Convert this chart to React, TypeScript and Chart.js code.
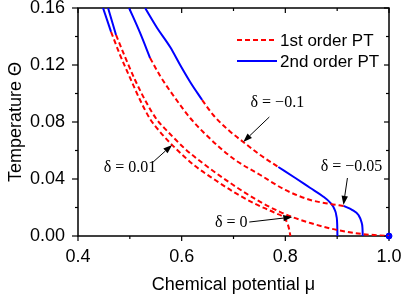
import React, { useEffect, useRef } from "react";
import { Chart, registerables } from "chart.js";
Chart.register(...registerables);

// Axis ticks
const xTicks = [0.4, 0.6, 0.8, 1.0];
const xMinor = [0.5, 0.7, 0.9];
const yTicks = [0, 0.04, 0.08, 0.12, 0.16];
const yMinor = [0.02, 0.06, 0.1, 0.14];

// δ = 0.01
const muA2 = [0.4483, 0.4638];
const tA2 = [0.16, 0.1432];
const muA1 = [0.4638, 0.4812, 0.5005, 0.5198, 0.5391, 0.5585, 0.5874, 0.6261, 0.6647, 0.7034, 0.742, 0.7807, 0.7981, 0.8039, 0.8077, 0.8097];
const tA1 = [0.1432, 0.127, 0.1109, 0.0954, 0.0821, 0.073, 0.0618, 0.0491, 0.0393, 0.0302, 0.0225, 0.0161, 0.0126, 0.0091, 0.0042, 0];

// δ = 0
const muB2 = [0.458, 0.4734];
const tB2 = [0.16, 0.1411];
const muB1 = [0.4734, 0.4908, 0.5101, 0.5314, 0.5527, 0.572, 0.6068, 0.6454, 0.6995, 0.7517, 0.7903, 0.8135, 0.8483, 0.9005, 0.9488, 1.0];
const tB1 = [0.1411, 0.1256, 0.1095, 0.094, 0.0814, 0.0737, 0.0611, 0.0498, 0.0358, 0.0239, 0.0168, 0.0133, 0.0091, 0.0042, 0.0014, 0];

// δ = -0.05
const muC2a = [0.4986, 0.5198, 0.5391];
const tC2a = [0.16, 0.1425, 0.1249];
const muC1 = [0.5391, 0.5585, 0.5874, 0.6164, 0.6415, 0.6744, 0.7034, 0.7517, 0.8, 0.8483, 0.887, 0.9121];
const tC1 = [0.1249, 0.1123, 0.0968, 0.0828, 0.073, 0.0618, 0.0533, 0.0428, 0.0323, 0.0253, 0.0225, 0.0211];
const muC2b = [0.9121, 0.9295, 0.9411, 0.9469, 0.9488, 0.9494];
const tC2b = [0.0211, 0.0182, 0.0147, 0.0098, 0.0056, 0];

// δ = -0.1
const muD2a = [0.5295, 0.5527, 0.5778, 0.5971, 0.6164, 0.6396];
const tD2a = [0.16, 0.146, 0.1326, 0.12, 0.1081, 0.0954];
const muD1 = [0.6396, 0.6609, 0.6899, 0.7188, 0.7517, 0.7865];
const tD1 = [0.0954, 0.0849, 0.0744, 0.066, 0.0568, 0.0484];
const muD2b = [0.7865, 0.8193, 0.8483, 0.8715, 0.887, 0.8947, 0.8986, 0.9001, 0.9005];
const tD2b = [0.0484, 0.0407, 0.0337, 0.0281, 0.0232, 0.0189, 0.014, 0.0077, 0];

// End point
const muDot = [1.0];
const tDot = [0];

// Annotations
const annoText = ["δ = −0.1", "δ = 0.01", "δ = 0", "δ = −0.05"];
const annoMu = [0.7846, 0.5005, 0.6957, 0.9275];
const annoT = [0.0933, 0.0477, 0.0091, 0.0484];
const arrowFromMu = [0.7691, 0.5449, 0.7304, 0.9198];
const arrowFromT = [0.0835, 0.0519, 0.0098, 0.0407];
const arrowToMu = [0.7188, 0.5816, 0.8135, 0.9121];
const arrowToT = [0.066, 0.0639, 0.0133, 0.0218];

const legendLabels = ["1st order PT", "2nd order PT"];

const RED = "#ff0000";
const BLUE = "#0000ff";
const SANS = '"Liberation Sans", Arial, sans-serif';
const SERIF = '"Liberation Serif", "Times New Roman", serif';

const pts = (mu: number[], t: number[]) => mu.map((m, i) => ({ x: m, y: t[i] }));

const seg = (mu: number[], t: number[], first: boolean) => ({
  data: pts(mu, t),
  borderColor: first ? RED : BLUE,
  borderDash: first ? [5, 3] : [],
  borderWidth: 2,
  pointRadius: 0,
  fill: false,
  cubicInterpolationMode: "monotone" as const,
});

const framePlugin = {
  id: "frame",
  beforeDatasetsDraw(chart: any) {
    const { ctx, chartArea: a, scales } = chart;
    const x = scales.x, y = scales.y;
    ctx.save();
    ctx.strokeStyle = "#000";
    ctx.lineWidth = 1.5;
    ctx.strokeRect(a.left, a.top, a.right - a.left, a.bottom - a.top);
    ctx.lineWidth = 1.2;
    const tick = (px: number, py: number, dx: number, dy: number) => {
      ctx.beginPath();
      ctx.moveTo(px, py);
      ctx.lineTo(px + dx, py + dy);
      ctx.stroke();
    };
    xTicks.forEach((v) => {
      const p = x.getPixelForValue(v);
      tick(p, a.bottom, 0, 5);
      tick(p, a.top, 0, 5);
    });
    xMinor.forEach((v) => {
      const p = x.getPixelForValue(v);
      tick(p, a.bottom, 0, 3);
      tick(p, a.top, 0, 3);
    });
    yTicks.forEach((v) => {
      const p = y.getPixelForValue(v);
      tick(a.left, p, -6, 0);
      tick(a.right, p, -5, 0);
    });
    yMinor.forEach((v) => {
      const p = y.getPixelForValue(v);
      tick(a.left, p, -3, 0);
      tick(a.right, p, -3, 0);
    });
    ctx.restore();
  },
  afterDatasetsDraw(chart: any) {
    const { ctx, chartArea: a, scales } = chart;
    const x = scales.x, y = scales.y;
    ctx.save();
    // legend
    const lx0 = a.right - 152;
    const ly = [a.top + 32, a.top + 53];
    ctx.lineWidth = 2;
    ctx.strokeStyle = RED;
    ctx.setLineDash([5, 3]);
    ctx.beginPath();
    ctx.moveTo(lx0, ly[0]);
    ctx.lineTo(lx0 + 37, ly[0]);
    ctx.stroke();
    ctx.setLineDash([]);
    ctx.strokeStyle = BLUE;
    ctx.beginPath();
    ctx.moveTo(lx0, ly[1]);
    ctx.lineTo(lx0 + 40, ly[1]);
    ctx.stroke();
    ctx.fillStyle = "#000";
    ctx.font = `17px ${SANS}`;
    ctx.textAlign = "left";
    ctx.textBaseline = "middle";
    legendLabels.forEach((s, i) => ctx.fillText(s, lx0 + 43, ly[i] + 1));
    // annotations
    ctx.font = `16px ${SERIF}`;
    ctx.textAlign = "center";
    ctx.textBaseline = "middle";
    annoText.forEach((s, i) => {
      ctx.fillText(s, x.getPixelForValue(annoMu[i]), y.getPixelForValue(annoT[i]));
      const x0 = x.getPixelForValue(arrowFromMu[i]);
      const y0 = y.getPixelForValue(arrowFromT[i]);
      const x1 = x.getPixelForValue(arrowToMu[i]);
      const y1 = y.getPixelForValue(arrowToT[i]);
      const ang = Math.atan2(y1 - y0, x1 - x0);
      const L = 9, W = 3.2;
      const bx = x1 - L * Math.cos(ang), by = y1 - L * Math.sin(ang);
      ctx.strokeStyle = "#000";
      ctx.lineWidth = 1;
      ctx.beginPath();
      ctx.moveTo(x0, y0);
      ctx.lineTo(bx, by);
      ctx.stroke();
      ctx.beginPath();
      ctx.moveTo(x1, y1);
      ctx.lineTo(bx + W * Math.sin(ang), by - W * Math.cos(ang));
      ctx.lineTo(bx - W * Math.sin(ang), by + W * Math.cos(ang));
      ctx.closePath();
      ctx.fill();
    });
    ctx.restore();
  },
};

export default function App() {
  const ref = useRef<HTMLCanvasElement | null>(null);
  useEffect(() => {
    if (!ref.current) return;
    const datasets: any[] = [
      seg(muA1, tA1, true),
      seg(muB1, tB1, true),
      seg(muC1, tC1, true),
      seg(muD1, tD1, true),
      seg(muA2, tA2, false),
      seg(muB2, tB2, false),
      seg(muC2a, tC2a, false),
      seg(muC2b, tC2b, false),
      seg(muD2a, tD2a, false),
      seg(muD2b, tD2b, false),
      {
        data: pts(muDot, tDot),
        showLine: false,
        pointRadius: 3,
        pointBackgroundColor: BLUE,
        pointBorderColor: BLUE,
        borderColor: BLUE,
        clip: false,
      },
    ];
    const chart = new Chart(ref.current, {
      type: "line",
      data: { datasets },
      plugins: [framePlugin],
      options: {
        animation: false,
        responsive: false,
        events: [],
        layout: { padding: { top: 8, right: 12, left: 0, bottom: 0 } },
        plugins: { legend: { display: false }, tooltip: { enabled: false } },
        scales: {
          x: {
            type: "linear",
            min: 0.4,
            max: 1.0,
            afterBuildTicks: (s: any) => {
              s.ticks = xTicks.map((v) => ({ value: v }));
            },
            afterFit: (s: any) => {
              s.height = 62;
              s.paddingLeft = 0;
              s.paddingRight = 0;
            },
            grid: { display: false, drawTicks: false },
            border: { display: false },
            ticks: {
              color: "#000",
              padding: 10,
              font: { family: SANS, size: 18 },
              callback: (v: any) => Number(v).toFixed(1),
            },
            title: {
              display: true,
              text: "Chemical potential μ",
              color: "#000",
              font: { family: SANS, size: 18 },
              padding: { top: 0, bottom: 2 },
            },
          },
          y: {
            type: "linear",
            min: 0,
            max: 0.16,
            afterBuildTicks: (s: any) => {
              s.ticks = yTicks.map((v) => ({ value: v }));
            },
            afterFit: (s: any) => {
              s.width = 78;
              s.paddingTop = 0;
              s.paddingBottom = 0;
            },
            grid: { display: false, drawTicks: false },
            border: { display: false },
            ticks: {
              color: "#000",
              padding: 13,
              font: { family: SANS, size: 18 },
              callback: (v: any) => Number(v).toFixed(2),
            },
            title: {
              display: true,
              text: "Temperature Θ",
              color: "#000",
              font: { family: SANS, size: 18 },
              padding: { top: 5, bottom: 0 },
            },
          },
        },
      },
    });
    return () => chart.destroy();
  }, []);
  return (
    <div style={{ position: "absolute", left: 0, top: 0, width: 401, height: 298, background: "#fff" }}>
      <canvas ref={ref} width={401} height={298} style={{ display: "block" }} />
    </div>
  );
}
